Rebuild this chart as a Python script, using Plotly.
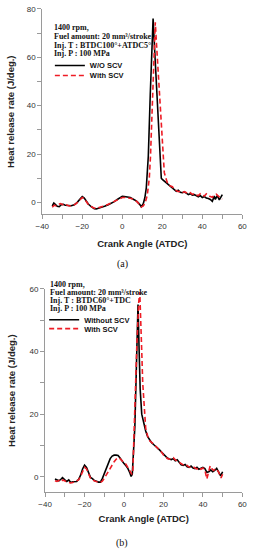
import plotly.graph_objects as go

W, H = 254, 550

# ---------------- Data: chart (a) ----------------
a_wo_x = [-35, -34.2, -33.5, -32.5, -31.5, -30.5, -29.5, -28.5, -27, -25.5,
          -24, -22.5, -21, -20, -19, -18, -17, -15.5, -14, -13,
          -11.5, -10, -8.5, -7, -5.5, -4, -2.5, -1, 0, 1,
          2.5, 4, 5.5, 7, 8.5, 9.5, 10.5, 11.3, 12, 13,
          14, 15, 15.4, 16, 17, 18, 19, 19.5, 20, 21,
          22, 23, 24, 25, 26, 27, 28, 29, 30, 31,
          32, 33, 34, 35, 36, 37, 38, 39, 40, 41,
          42, 43, 44, 45, 46, 46.5, 47.5, 48.5, 49.3, 50]
a_wo_y = [-1.5, -0.3, -0.8, -1.6, -1.8, -1.0, -0.8, -1.2, -1.3, -1.4,
          -1.0, 0.0, 1.5, 2.4, 1.8, 0.3, -0.7, -1.8, -2.6, -2.7,
          -2.4, -2.0, -1.5, -1.0, -0.4, 0.3, 1.2, 2.0, 2.5, 2.4,
          2.2, 2.0, 1.3, 0.6, -0.6, -1.8, -0.5, 2.0, 6.0, 19.0,
          45.0, 68.0, 76.0, 66.0, 50.0, 34.0, 18.0, 10.0, 9.5, 8.8,
          8.2, 7.3, 6.4, 5.8, 5.2, 4.6, 5.0, 4.2, 4.0, 4.3,
          3.8, 3.2, 3.6, 3.0, 3.2, 2.6, 2.3, 2.8, 2.0, 2.4,
          1.8, 1.6, 1.2, 0.4, 2.6, 1.2, 2.8, 1.0, 2.4, 3.2]

a_with_x = [-35, -34, -33, -32, -31, -30, -29, -28, -26.5, -25,
            -23.5, -22, -21, -20, -19, -18, -17, -15.5, -14, -13,
            -11.5, -10, -8.5, -7, -5.5, -4, -2.5, -1, 0, 1.5,
            3, 4.5, 6, 7.5, 8.5, 9.5, 10.5, 11.5, 12.5, 13.5,
            14.1, 15, 16, 16.5, 17, 18, 19, 20.2, 21, 22,
            22.5, 23.5, 25, 26, 27, 28, 29, 30, 31, 32,
            33, 34, 35, 36, 37, 38, 39, 40, 41, 42,
            43, 44, 45, 46, 47, 48, 49, 50]
a_with_y = [-2.0, -1.2, -1.5, -1.0, -0.5, -0.8, -1.3, -1.0, -1.5, -1.3,
            -0.8, 0.3, 1.2, 2.0, 1.5, 0.2, -0.8, -1.7, -2.4, -2.5,
            -2.2, -1.8, -1.3, -0.8, -0.2, 0.5, 1.2, 1.8, 2.0, 2.0,
            1.8, 1.6, 1.0, 0.2, -0.8, -1.9, -1.5, 0.0, 3.0, 10.0,
            19.0, 40.0, 66.0, 74.5, 67.0, 52.0, 37.0, 19.0, 12.3, 9.5,
            8.2, 7.0, 6.5, 5.4, 5.0, 4.4, 4.6, 4.0, 4.4, 4.1,
            3.6, 4.0, 3.3, 3.6, 3.0, 2.8, 3.6, 3.1, 2.6, 3.5,
            2.7, 2.4, 2.1, 3.0, 3.4, 2.6, 2.0, 1.4]

# ---------------- Data: chart (b) ----------------
b_wo_x = [-35, -34, -33, -32, -31.2, -30, -29, -28, -27, -26,
          -25, -24, -23, -22, -21, -20, -19, -18, -17, -16,
          -15, -14, -13, -12, -11, -10, -9, -8, -7, -6,
          -5, -4, -3, -2, -1, 0, 1, 2, 3, 3.6,
          4.2, 5, 5.5, 6, 6.5, 7.1, 7.6, 8.2, 9, 9.9,
          11, 12, 13, 14, 15, 16, 17, 18, 19, 20,
          21, 22, 23, 24, 25, 26, 27, 28, 29, 30,
          31, 32, 33, 34, 35, 36, 37, 38, 39, 40,
          41, 42, 43, 44, 45, 46, 47, 48, 49, 50]
b_wo_y = [-0.7, -1.0, -1.3, -0.8, -0.3, -1.0, -1.5, -1.0, -1.8, -1.6,
          -1.5, -1.5, -0.8, 0.5, 2.5, 3.7, 3.0, 1.2, -0.2, -0.6,
          -1.2, -1.4, -1.7, -1.7, -0.6, 1.0, 2.8, 4.5, 5.8, 6.6,
          6.9, 6.9, 6.8, 6.0, 5.0, 4.2, 3.5, 2.6, 1.2, 0.1,
          0.8, 10.0, 16.0, 28.0, 42.0, 55.0, 42.0, 28.0, 20.0, 17.0,
          14.6, 12.8, 11.6, 10.9, 10.3, 9.8, 9.3, 8.6, 7.9, 7.2,
          6.6, 6.0, 5.7, 5.5, 5.8, 5.1, 5.4, 4.4, 3.8, 3.6,
          3.9, 3.2, 3.0, 3.4, 2.8, 2.6, 3.0, 2.4, 2.6, 3.0,
          2.6, 1.4, 1.6, 2.2, 1.6, 2.0, 2.7, 1.2, 0.3, 1.6]

b_with_x = [-35, -34, -33, -32, -31, -30, -29, -28, -27, -26,
            -25, -24, -23, -22, -21, -20, -19, -18, -17, -16,
            -15, -14, -13, -12, -11, -10, -9, -8, -7, -6,
            -5, -4, -3, -2, -1, 0, 1, 2, 3, 4,
            4.5, 5, 5.5, 6, 6.5, 7, 7.5, 8.0, 8.5, 9,
            9.5, 10.3, 11, 12, 13, 14, 15, 16, 17, 18,
            19, 20, 21, 22, 23, 24, 25, 26, 27, 28,
            29, 30, 31, 32, 33, 34, 35, 36, 37, 38,
            39, 40, 41, 42, 43, 43.7, 44.5, 45.4, 46.5, 47.9,
            49.2, 50]
b_with_y = [-1.3, -1.5, -1.2, -1.6, -1.0, -1.4, -1.6, -1.8, -2.0, -1.8,
            -1.6, -1.3, -1.0, 0.2, 1.8, 3.0, 2.5, 1.0, -0.4, -1.0,
            -1.3, -1.6, -1.8, -1.8, -1.4, -0.5, 0.6, 1.9, 3.0, 4.0,
            4.8, 5.6, 6.1, 5.8, 5.0, 4.5, 4.0, 3.0, 1.9, 0.8,
            2.0, 15.0, 22.0, 32.0, 42.0, 50.0, 56.0, 59.0, 52.0, 40.0,
            30.0, 20.0, 15.5, 13.0, 11.5, 11.0, 10.5, 9.9, 9.2, 8.4,
            7.9, 7.0, 6.6, 5.8, 5.6, 5.9, 6.1, 5.4, 5.0, 4.6,
            4.0, 3.6, 3.4, 3.6, 3.1, 3.0, 3.2, 2.8, 2.5, 3.0,
            2.4, 2.8, 2.2, -0.7, 1.5, 3.5, 2.6, 2.0, 2.6, 1.6,
            -0.4, 0.8]

x_ticks = [-40, -20, 0, 20, 40, 60]
a_y_ticks = [0, 20, 40, 60, 80]
b_y_ticks = [0, 20, 40, 60]

a_notes = ["1400 rpm,", "Fuel amount: 20 mm³/stroke", "Inj. T : BTDC100°+ATDC5°", "Inj. P : 100 MPa"]
b_notes = ["1400 rpm,", "Fuel amount: 20 mm³/stroke", "Inj. T : BTDC60°+TDC", "Inj. P : 100 MPa"]
a_names = ["W/O SCV", "With SCV"]
b_names = ["Without SCV", "With SCV"]

# ---------------- Figure ----------------
def px_x(p):
    return p / W

def px_y(p):
    return 1 - p / H

fig = go.Figure()

BLACK = "#000000"
RED = "#ee1c25"

fig.add_trace(go.Scatter(x=a_wo_x, y=a_wo_y, mode="lines", name="<b>" + a_names[0] + "</b>",
                         line=dict(color=BLACK, width=1.6), xaxis="x", yaxis="y", legend="legend"))
fig.add_trace(go.Scatter(x=a_with_x, y=a_with_y, mode="lines", name="<b>" + a_names[1] + "</b>",
                         line=dict(color=RED, width=1.6, dash="5px,3px"), xaxis="x", yaxis="y", legend="legend2"))
fig.add_trace(go.Scatter(x=b_wo_x, y=b_wo_y, mode="lines", name="<b>" + b_names[0] + "</b>",
                         line=dict(color=BLACK, width=1.6), xaxis="x2", yaxis="y2", legend="legend3"))
fig.add_trace(go.Scatter(x=b_with_x, y=b_with_y, mode="lines", name="<b>" + b_names[1] + "</b>",
                         line=dict(color=RED, width=1.6, dash="5px,3px"), xaxis="x2", yaxis="y2", legend="legend4"))

axis_common = dict(showline=True, linecolor="#9a9a9a", linewidth=1, ticks="outside",
                   ticklen=4, tickcolor="#9a9a9a", tickwidth=1, showgrid=False, zeroline=False,
                   tickfont=dict(family="Liberation Sans, Arial", size=8, color="#333333"),
                   minor=dict(ticks="outside", ticklen=4, tickcolor="#9a9a9a", tickwidth=1, showgrid=False))

title_font = dict(family="Liberation Sans, Arial", size=9.5, color="#222222")

fig.update_layout(
    width=W, height=H,
    margin=dict(l=0, r=0, t=0, b=0),
    paper_bgcolor="white", plot_bgcolor="white",
    showlegend=True,
    xaxis=dict(domain=[px_x(37), px_x(247)], range=[-40, 60], tickvals=x_ticks, anchor="y",
               title=dict(text="<b>Crank Angle (ATDC)</b>", font=title_font, standoff=10),
               minor_dtick=10, **axis_common),
    yaxis=dict(domain=[px_y(212), px_y(5)], range=[-5, 80], tickvals=a_y_ticks, anchor="x",
               title=dict(text="<b>Heat release rate (J/deg.)</b>", font=title_font, standoff=10),
               minor_dtick=10, **axis_common),
    xaxis2=dict(domain=[px_x(40), px_x(247)], range=[-40, 60], tickvals=x_ticks, anchor="y2",
                title=dict(text="<b>Crank Angle (ATDC)</b>", font=title_font, standoff=7),
                minor_dtick=10, **axis_common),
    yaxis2=dict(domain=[px_y(492), px_y(287)], range=[-5, 60], tickvals=b_y_ticks, anchor="x2",
                title=dict(text="<b>Heat release rate (J/deg.)</b>", font=title_font, standoff=12),
                minor_dtick=10, **axis_common),
)

leg_font = dict(family="Liberation Sans, Arial", size=7.5, color="#111111")
def legend_at(xp, yp):
    return dict(x=px_x(xp), y=px_y(yp), xanchor="left", yanchor="middle",
                bgcolor="rgba(0,0,0,0)", borderwidth=0, font=leg_font,
                itemwidth=30, tracegroupgap=0)

fig.update_layout(
    legend=legend_at(45, 62),
    legend2=legend_at(45, 72),
    legend3=legend_at(39, 318),
    legend4=legend_at(39, 327),
)

note_font = dict(family="Liberation Serif, Times New Roman", size=8, color="#111111")
for i, t in enumerate(a_notes):
    fig.add_annotation(x=px_x(47), y=px_y(24 + i * 8.7), xref="paper", yref="paper", text="<b>" + t + "</b>",
                       showarrow=False, xanchor="left", yanchor="middle", font=note_font)
for i, t in enumerate(b_notes):
    fig.add_annotation(x=px_x(43), y=px_y(283 + i * 7.8), xref="paper", yref="paper", text="<b>" + t + "</b>",
                       showarrow=False, xanchor="left", yanchor="middle", font=note_font)

cap_font = dict(family="Liberation Serif, Times New Roman", size=10, color="#111111")
fig.add_annotation(x=px_x(121), y=px_y(262), xref="paper", yref="paper", text="(a)",
                   showarrow=False, xanchor="center", yanchor="middle", font=cap_font)
fig.add_annotation(x=px_x(121), y=px_y(543), xref="paper", yref="paper", text="(b)",
                   showarrow=False, xanchor="center", yanchor="middle", font=cap_font)

fig.write_html("out.html", config={"displayModeBar": False},
               post_script="document.body.style.margin='0';document.body.style.overflow='hidden';")
